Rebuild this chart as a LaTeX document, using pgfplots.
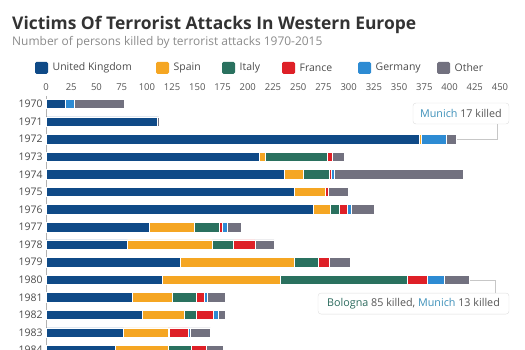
\documentclass[border=0pt]{standalone}
\usepackage{fontspec}
\setmainfont{Open Sans}
\usepackage{pgfplots}
\pgfplotsset{compat=1.18}
\definecolor{cUK}{HTML}{0F4A87}
\definecolor{cES}{HTML}{F5A623}
\definecolor{cIT}{HTML}{2A715F}
\definecolor{cFR}{HTML}{DE2027}
\definecolor{cDE}{HTML}{2D8BD3}
\definecolor{cOT}{HTML}{72717F}
\definecolor{ctitle}{HTML}{333333}
\definecolor{csub}{HTML}{8A8A8A}
\definecolor{ctext}{HTML}{4A4A4A}
\definecolor{ctick}{HTML}{555555}
\definecolor{cMunich}{HTML}{3E91BA}
\definecolor{cBologna}{HTML}{2C6B5E}
\begin{document}
\begin{tikzpicture}
\useasboundingbox (0bp,0bp) rectangle (525bp,350bp);
\clip (0bp,0bp) rectangle (525bp,350bp);
\node[anchor=base west, inner sep=0, text=ctitle, font=\fontsize{17.5}{20}\selectfont\bfseries] at (12bp,320.7bp) {Victims Of Terrorist Attacks In Western Europe};
\node[anchor=base west, inner sep=0, text=csub, font=\fontsize{12}{14}\selectfont] at (12bp,304.3bp) {Number of persons killed by terrorist attacks 1970-2015};
\foreach \x/\c/\t in {35/cUK/United Kingdom, 156/cES/Spain, 222/cIT/Italy, 282/cFR/France, 358/cDE/Germany, 437/cOT/Other}{
  \fill[\c, rounded corners=1.5bp] (\x bp,276bp) rectangle ++(13bp,12bp);
  \node[anchor=west, inner sep=0, text=ctext, font=\fontsize{10.5}{12}\selectfont] at (\x bp+17.5bp,282bp) {\t};
}
\begin{axis}[
  at={(273bp,127.75bp)}, anchor=center,
  scale only axis, width=454bp, height=256.5bp,
  xbar stacked, bar width=9.5bp,
  xmin=0, xmax=450, ymin=1969.431, ymax=1984.02,
  y dir=reverse, clip=false,
  axis line style={draw=none}, major tick length=0pt,
  xtick={0,25,...,450}, ytick={1970,...,1984},
  xticklabel pos=upper,
  /pgf/number format/assume math mode=true,
  /pgf/number format/1000 sep={},
  xticklabel style={font=\fontsize{9.5}{11}\selectfont, text=ctick},
  yticklabel style={font=\fontsize{10.5}{12}\selectfont, text=ctext},
  every axis plot/.append style={draw=white, line width=0.6bp},
]
\addplot[fill=cUK] coordinates {(19,1970) (110,1971) (370,1972) (211,1973) (236,1974) (246,1975) (265,1976) (102,1977) (81,1978) (133,1979) (115,1980) (86,1981) (95,1982) (77,1983) (69,1984)};
\addplot[fill=cES] coordinates {(0,1970) (0,1971) (2,1972) (6,1973) (19,1974) (31,1975) (17,1976) (45,1977) (84,1978) (113,1979) (117,1980) (39,1981) (42,1982) (44,1983) (52,1984)};
\addplot[fill=cIT] coordinates {(0,1970) (0,1971) (0,1972) (62,1973) (26,1974) (0,1975) (9,1976) (25,1977) (21,1978) (24,1979) (126,1980) (24,1981) (12,1982) (1,1983) (23,1984)};
\addplot[fill=cFR] coordinates {(0,1970) (0,1971) (0,1972) (5,1973) (2,1974) (3,1975) (8,1976) (3,1977) (21,1978) (11,1979) (20,1980) (8,1981) (17,1982) (19,1983) (15,1984)};
\addplot[fill=cDE] coordinates {(9,1970) (0,1971) (25,1972) (0,1973) (3,1974) (0,1975) (4,1976) (5,1977) (0,1978) (0,1979) (17,1980) (3,1981) (5,1982) (2,1983) (0,1984)};
\addplot[fill=cOT] coordinates {(50,1970) (2,1971) (10,1972) (12,1973) (128,1974) (20,1975) (22,1976) (14,1977) (19,1978) (21,1979) (25,1980) (18,1981) (7,1982) (20,1983) (17,1984)};
\draw[black!30, line width=0.5bp] (axis cs:0,1969.55) -- (axis cs:0,1985);
\draw[black!22, line width=0.6bp] (axis cs:407.5,1972) -- (axis cs:447,1972) -- (axis cs:447,1971.14);
\draw[black!22, line width=0.6bp] (axis cs:420,1980) -- (axis cs:445,1980) -- (axis cs:445,1980.75);
\node[draw=black!13, fill=white, rounded corners=3bp, minimum width=96bp, minimum height=21bp, inner sep=0, text=ctick, font=\fontsize{10.8}{12}\selectfont] at (axis cs:411.3,1970.54) {\textcolor{cMunich}{Munich} 17 killed};
\node[draw=black!13, fill=white, rounded corners=3bp, minimum width=191bp, minimum height=21bp, inner sep=0, text=ctick, font=\fontsize{10.8}{12}\selectfont] at (axis cs:364.3,1981.35) {\textcolor{cBologna}{Bologna} 85 killed, \textcolor{cMunich}{Munich} 13 killed};
\end{axis}
\end{tikzpicture}
\end{document}
